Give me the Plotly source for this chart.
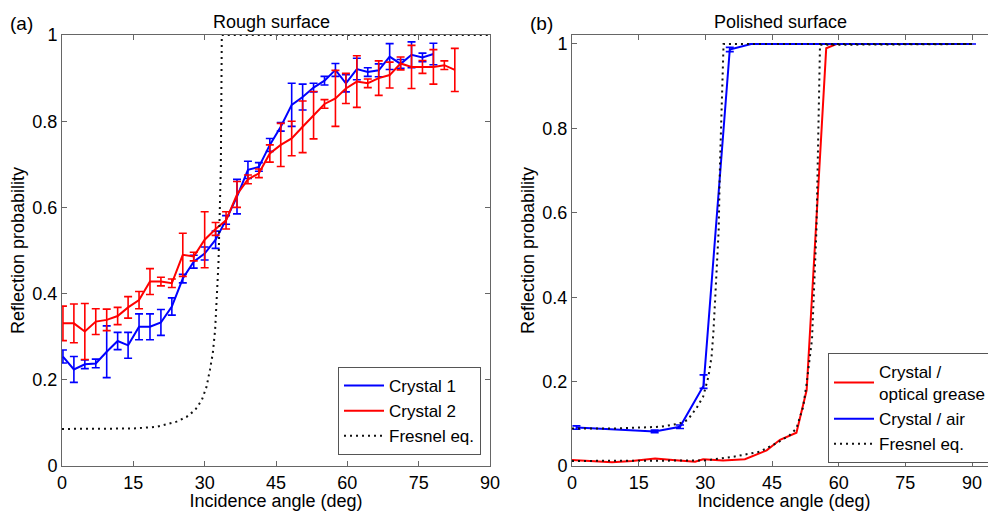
import plotly.graph_objects as go

# ---------------- data: panel (a) rough surface ----------------
angles_a = [0.2, 2.5, 4.8, 7.1, 9.4, 11.7, 13.9, 16.2, 18.5, 20.8, 23.1, 25.4, 27.7,
            30.0, 32.3, 34.5, 36.8, 39.1, 41.4, 43.7, 46.0, 48.3, 50.6, 52.9, 55.2,
            57.5, 59.7, 62.0, 64.3, 66.6, 68.9, 71.2, 73.5, 75.8, 78.1, 80.4, 82.6]

crystal1 = [0.254, 0.224, 0.236, 0.238, 0.265, 0.29, 0.28, 0.323, 0.323, 0.333,
            0.37, 0.435, 0.474, 0.493, 0.525, 0.571, 0.625, 0.687, 0.694, 0.745,
            0.787, 0.838, 0.856, 0.878, 0.894, 0.919, 0.888, 0.921, 0.914, 0.918,
            0.950, 0.933, 0.954, 0.948, 0.956]
crystal1_err = [0.015, 0.03, 0.01, 0.01, 0.06, 0.02, 0.03, 0.03, 0.03, 0.03,
                0.02, 0.01, 0.015, 0.015, 0.02, 0.01, 0.04, 0.02, 0.01, 0.015,
                0.01, 0.05, 0.03, 0.01, 0.01, 0.015, 0.02, 0.025, 0.01, 0.015,
                0.03, 0.01, 0.03, 0.01, 0.025]

crystal2 = [0.331, 0.331, 0.312, 0.335, 0.339, 0.348, 0.368, 0.385, 0.428, 0.428,
            0.424, 0.49, 0.486, 0.525, 0.55, 0.57, 0.63, 0.665, 0.679, 0.725,
            0.745, 0.76, 0.787, 0.814, 0.84, 0.853, 0.876, 0.892, 0.888, 0.9,
            0.907, 0.934, 0.926, 0.926, 0.926, 0.93, 0.919]
crystal2_err = [0.04, 0.045, 0.065, 0.03, 0.025, 0.02, 0.025, 0.02, 0.03, 0.01,
                0.01, 0.05, 0.01, 0.065, 0.015, 0.02, 0.03, 0.01, 0.01, 0.02,
                0.05, 0.04, 0.06, 0.055, 0.01, 0.065, 0.035, 0.06, 0.01, 0.04,
                0.03, 0.015, 0.05, 0.015, 0.04, 0.01, 0.05]

fresnel_a_angles = [0, 10, 15, 20, 24.1, 26.2, 28, 29.4, 30.4, 31.1, 31.7, 32.2,
                    32.5, 32.9, 33.4, 33.6, 90]
fresnel_a = [0.086, 0.086, 0.087, 0.091, 0.103, 0.114, 0.13, 0.153, 0.184, 0.223,
             0.261, 0.316, 0.393, 0.47, 0.69, 1.0, 1.0]

# ---------------- data: panel (b) polished surface ----------------
grease_angles = [0, 4.5, 9, 13.5, 18.7, 24, 27.7, 29.5, 34, 38.9, 43.8, 46.8, 50.5,
                 52.8, 57.2, 59.5, 65, 70, 75, 80, 85, 90]
grease = [0.014, 0.012, 0.009, 0.012, 0.018, 0.013, 0.01, 0.016, 0.013, 0.016,
          0.037, 0.062, 0.079, 0.18, 0.99, 1.0, 1.0, 1.0, 1.0, 1.0, 1.0, 1.0]

air_angles = [1.0, 18.6, 24.3, 29.6, 35.5, 40.3, 45, 50, 55, 60, 65, 70, 75, 80, 85, 90]
air = [0.091, 0.082, 0.093, 0.19, 0.987, 1.0, 1.0, 1.0, 1.0, 1.0, 1.0, 1.0, 1.0,
       1.0, 1.0, 1.0]
air_err_plus = [0.004, 0.003, 0.004, 0.026, 0.005, 0, 0, 0, 0, 0, 0, 0, 0, 0, 0, 0]
air_err_minus = [0.004, 0.003, 0.004, 0.006, 0.005, 0, 0, 0, 0, 0, 0, 0, 0, 0, 0, 0]

fresnel_air_angles = [0, 10, 20, 24, 26, 28, 29.5, 30.7, 31.4, 31.8, 32.2, 33.0,
                      33.3, 33.8, 34.1, 90]
fresnel_air = [0.089, 0.089, 0.093, 0.1, 0.109, 0.137, 0.164, 0.212, 0.259, 0.314,
               0.393, 0.559, 0.717, 0.915, 1.0, 1.0]

fresnel_grease_angles = [0, 10, 20, 30, 36.3, 42.3, 46, 49, 50.5, 52, 52.8, 53.5,
                         54, 55, 55.4, 55.8, 90]
fresnel_grease = [0.012, 0.012, 0.012, 0.013, 0.022, 0.034, 0.054, 0.073, 0.089,
                  0.14, 0.196, 0.259, 0.3, 0.559, 0.796, 0.998, 1.0]

x_ticks = [0, 15, 30, 45, 60, 75, 90]
y_ticks = [0, 0.2, 0.4, 0.6, 0.8, 1]
y_tick_labels = ["0", "0.2", "0.4", "0.6", "0.8", "1"]

BLUE = "#0000ff"
RED = "#ff0000"
FONT = "Arial, Liberation Sans, sans-serif"
OFF = 8                      # page body margin of the saved html
W, H = 996 - OFF, 511 - OFF

fig = go.Figure()

# ---- panel (a)
fig.add_trace(go.Scatter(x=angles_a[:len(crystal1)], y=crystal1, mode="lines",
                         name="Crystal 1", line=dict(color=BLUE, width=2),
                         error_y=dict(type="data", array=crystal1_err, color=BLUE,
                                      thickness=1.6, width=4),
                         xaxis="x", yaxis="y", legend="legend"))
fig.add_trace(go.Scatter(x=angles_a[:len(crystal2)], y=crystal2, mode="lines",
                         name="Crystal 2", line=dict(color=RED, width=2),
                         error_y=dict(type="data", array=crystal2_err, color=RED,
                                      thickness=1.6, width=4),
                         xaxis="x", yaxis="y", legend="legend"))
fig.add_trace(go.Scatter(x=fresnel_a_angles, y=fresnel_a, mode="lines",
                         name="Fresnel eq.",
                         line=dict(color="#111111", width=2, dash="2px,4px"),
                         xaxis="x", yaxis="y", legend="legend"))

# ---- panel (b)
fig.add_trace(go.Scatter(x=grease_angles, y=grease, mode="lines",
                         name="Crystal /<br>optical grease",
                         line=dict(color=RED, width=2),
                         xaxis="x2", yaxis="y2", legend="legend2"))
fig.add_trace(go.Scatter(x=air_angles, y=air, mode="lines", name="Crystal / air",
                         line=dict(color=BLUE, width=2),
                         error_y=dict(type="data", array=air_err_plus,
                                      arrayminus=air_err_minus, color=BLUE,
                                      thickness=1.6, width=4),
                         xaxis="x2", yaxis="y2", legend="legend2"))
fig.add_trace(go.Scatter(x=fresnel_grease_angles, y=fresnel_grease, mode="lines",
                         name="Fresnel eq.",
                         line=dict(color="#111111", width=2, dash="2px,4px"),
                         xaxis="x2", yaxis="y2", legend="legend2"))
fig.add_trace(go.Scatter(x=fresnel_air_angles, y=fresnel_air, mode="lines",
                         name="Fresnel eq.", showlegend=False,
                         line=dict(color="#111111", width=2, dash="2px,4px"),
                         xaxis="x2", yaxis="y2", legend="legend2"))

def px_x(p):
    return (p - OFF) / W

def px_y(p):
    return 1 - (p - OFF) / H

axis_common = dict(showline=True, linecolor="#666666", linewidth=1, mirror="allticks",
                   ticks="inside", ticklen=5, tickcolor="#666666", showgrid=False,
                   zeroline=False, automargin=False,
                   tickfont=dict(family=FONT, size=18, color="#000"),
                   title_font=dict(family=FONT, size=18, color="#000"))

legend_common = dict(bgcolor="white", bordercolor="#555555", borderwidth=1,
                     font=dict(family=FONT, size=17, color="#000"),
                     traceorder="normal", itemwidth=40, tracegroupgap=0)

def label(text, x, y, size):
    return dict(text=text, x=px_x(x), y=px_y(y), xref="paper", yref="paper",
                xanchor="center", yanchor="middle", showarrow=False,
                font=dict(family=FONT, size=size, color="#000"))

fig.update_layout(
    width=W, height=H, margin=dict(l=0, r=0, t=0, b=0, autoexpand=False),
    paper_bgcolor="white", plot_bgcolor="white",
    font=dict(family=FONT, size=17, color="#000"),
    xaxis=dict(domain=[px_x(62), px_x(490)], range=[0, 90], tickvals=x_ticks,
               title=dict(text="Incidence angle (deg)", standoff=2), anchor="y",
               **axis_common),
    yaxis=dict(domain=[px_y(466), px_y(35)], range=[0, 1], tickvals=y_ticks,
               ticktext=y_tick_labels, title=dict(text="Reflection probability", standoff=3),
               anchor="x", **axis_common),
    xaxis2=dict(domain=[px_x(572), 1.0], range=[0, 95.4], tickvals=x_ticks,
                title=dict(text="Incidence angle (deg)", standoff=2), anchor="y2",
                **axis_common),
    yaxis2=dict(domain=[px_y(466), px_y(35)], range=[0, 1.0213], tickvals=y_ticks,
                ticktext=y_tick_labels, title=dict(text="Reflection probability", standoff=3),
                anchor="x2", **axis_common),
    legend=dict(x=px_x(481), y=px_y(455), xanchor="right", yanchor="bottom",
                **legend_common),
    legend2=dict(x=px_x(828), y=px_y(463), xanchor="left", yanchor="bottom",
                 **legend_common),
    annotations=[
        label("(a)", 21, 23, 19),
        label("(b)", 541, 23, 19),
        label("Rough surface", 271, 22, 18),
        label("Polished surface", 780, 22, 18),
    ],
)

fig.write_html("out.html")
